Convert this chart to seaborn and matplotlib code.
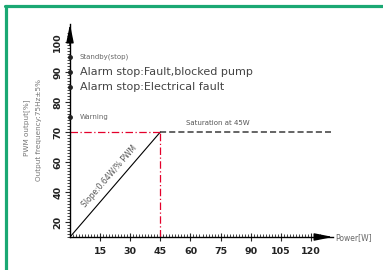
import numpy as np
import pandas as pd
import matplotlib
matplotlib.use("Agg")
import matplotlib.pyplot as plt
from matplotlib.lines import Line2D
from matplotlib.ticker import FixedLocator
import seaborn as sns

sns.set_style("white")
plt.rcParams['font.family'] = ['DejaVu Sans']

# --- data ---
power = [0, 45]
pwm = [0, 70]
sat_power = [45, 130]
sat_pwm = [70, 70]
x_ticks = [15, 30, 45, 60, 75, 90, 105, 120]
y_ticks = [20, 40, 60, 70, 80, 90, 100]
event_levels = [95, 90, 85, 75]
event_labels = ["Standby(stop)", "Alarm stop:Fault,blocked pump",
                "Alarm stop:Electrical fault", "Warning"]
event_sizes = [5.0, 8.0, 8.0, 5.0]
event_colors = ["#666666", "#444444", "#444444", "#666666"]

# schematic y-axis: stretched above 60 %
brk_data = [0, 20, 60, 100, 300]
brk_disp = [0, 15, 75, 195, 795]


def fwd(v):
    return np.interp(v, brk_data, brk_disp)


def inv(v):
    return np.interp(v, brk_disp, brk_data)


fig = plt.figure(figsize=(3.83, 2.70), dpi=100)
ax = fig.add_axes([70 / 383, 33 / 270, 263 / 383, 213 / 270])
ax.set_yscale('function', functions=(fwd, inv))
ax.set_xlim(0, 131)
ax.set_ylim(0, 106)

red = "#e4002b"
line_df = pd.DataFrame({"power": power, "pwm": pwm})
sns.lineplot(data=line_df, x="power", y="pwm", color="black", lw=0.8, ax=ax)
ax.plot([0, 45], [70, 70], color=red, lw=0.9, ls=(0, (6, 2, 1, 2)))
ax.plot([45, 45], [0, 70], color=red, lw=0.9, ls=(0, (6, 2, 1, 2)))
ax.plot(sat_power, sat_pwm, color="#3a3a3a", lw=1.1, ls=(0, (4, 2)))

# event markers on the y axis
ax.plot([0] * len(event_levels), event_levels, ls="none", marker="o", ms=2.5,
        color="#222222", clip_on=False, zorder=10)
for lvl, lab, fs, c in zip(event_levels, event_labels, event_sizes, event_colors):
    ax.text(4.8, lvl, lab, fontsize=fs, color=c, va="center", ha="left")

ax.text(58, 72, "Saturation at 45W", fontsize=5.0, color="#555555",
        va="bottom", ha="left")
ax.text(19.5, 50.5, "Slope:0.64W/% PWM", fontsize=5.5, color="#555555",
        rotation=49, rotation_mode="anchor", ha="center", va="center")

# axes
for s in ["top", "right"]:
    ax.spines[s].set_visible(False)
for s in ["left", "bottom"]:
    ax.spines[s].set_color("black")
    ax.spines[s].set_linewidth(1.0)
ax.annotate("", xy=(1.0, 0), xytext=(0.93, 0), xycoords="axes fraction",
            arrowprops=dict(arrowstyle="-|>,head_length=1.1,head_width=0.22",
                            color="black", lw=1.0, shrinkA=0, shrinkB=0))
ax.annotate("", xy=(0, 1.0), xytext=(0, 0.9), xycoords="axes fraction",
            arrowprops=dict(arrowstyle="-|>,head_length=1.1,head_width=0.22",
                            color="black", lw=1.0, shrinkA=0, shrinkB=0))

ax.set_xticks(x_ticks)
ax.set_xticklabels([str(t) for t in x_ticks], fontweight="bold")
ax.set_yticks(y_ticks)
ax.set_yticklabels([str(t) for t in y_ticks], rotation=90, va="center",
                   fontweight="bold")
ax.xaxis.set_minor_locator(FixedLocator(np.arange(0, 126, 1.5)))
ax.yaxis.set_minor_locator(FixedLocator(
    list(np.arange(0, 20, 4)) + list(np.arange(20, 60, 2)) + list(np.arange(60, 104, 1))))
ax.tick_params(axis="x", which="major", direction="inout", length=6, width=0.8,
               labelsize=6.8, pad=4, bottom=True, labelcolor="#222222")
ax.tick_params(axis="x", which="minor", direction="in", length=2.5, width=0.6,
               bottom=True)
ax.tick_params(axis="y", which="major", direction="out", length=3.5, width=0.8,
               labelsize=6.8, pad=2, left=True, labelcolor="#222222")
ax.tick_params(axis="y", which="minor", direction="out", length=2, width=0.6,
               left=True)
ax.set_xlabel("")
ax.set_ylabel("")

fig.text(335 / 383, 1 - 238 / 270, "Power[W]", fontsize=5.5, color="#666666",
         va="center", ha="left")
fig.text(27 / 383, 1 - 128 / 270, "PWM output[%]", fontsize=5.2, color="#777777",
         rotation=90, va="center", ha="center")
fig.text(39 / 383, 1 - 130 / 270, "Output frequency:75Hz±5%", fontsize=5.2,
         color="#777777", rotation=90, va="center", ha="center")

# green frame
green = "#1aa873"
fig.add_artist(Line2D([5.5 / 383, 5.5 / 383], [0, 1 - 5.5 / 270],
                      color=green, lw=2.3, transform=fig.transFigure))
fig.add_artist(Line2D([4.5 / 383, 1], [1 - 5.5 / 270, 1 - 5.5 / 270],
                      color=green, lw=2.3, transform=fig.transFigure))

fig.savefig("out.png", dpi=100)
